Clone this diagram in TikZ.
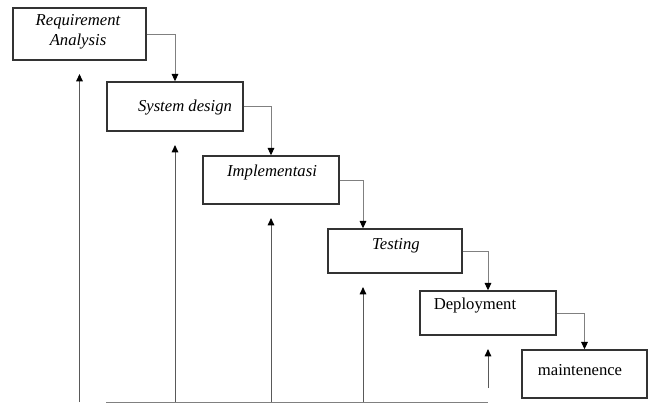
\documentclass[tikz,border=0pt]{standalone}
\usepackage{fontspec}
\setmainfont{Liberation Serif}
\usetikzlibrary{arrows.meta,positioning}

\begin{document}
\begin{tikzpicture}[x=0.75pt,y=-0.75pt,>={Triangle[length=5.5pt,width=5pt,color=black]},
  every node/.style={font=\fontsize{12.5}{15}\selectfont},
  box/.style={draw=black!80,line width=1.1pt,rectangle,inner sep=0pt},
  lbl/.style={font=\fontsize{12.5}{15}\selectfont\itshape,align=center},
  flow/.style={->,draw=black!50,line width=0.7pt},
  back/.style={->,draw=black!65,line width=0.7pt,shorten >=10pt}]
\useasboundingbox (0,0) rectangle (649,403);
% phases
\node[box,minimum width=99.75pt,minimum height=39pt] (req) at (79.5,34) {};
\node[box,minimum width=102pt,minimum height=36.75pt] (sys) at (175,106.5) {};
\node[box,minimum width=102pt,minimum height=36pt] (impl) at (271,180) {};
\node[box,minimum width=100.5pt,minimum height=33pt] (test) at (395,251) {};
\node[box,minimum width=102pt,minimum height=33pt] (deploy) at (488,313) {};
\node[box,minimum width=93.75pt,minimum height=36pt] (maint) at (584.5,374) {};
\node[lbl] (reqtext) at (78,32) {Requirement\\Analysis};
\node[lbl] (systext) at (185,108) {System design};
\node[lbl] (impltext) at (272,172) {Implementasi};
\node[lbl] (testtext) at (396,246) {Testing};
\node (deploytext) at (475,306) {Deployment};
\node (mainttext) at (580,370) {maintenence};
\coordinate (testin) at ([xshift=-24pt]test.north);
\coordinate (testout) at ([xshift=-24pt]test.south);
% forward flow
\draw[flow] (req.east) -| (sys.north);
\draw[flow] (sys.east) -| (impl.north);
\draw[flow] (impl.east) -| (testin);
\draw[flow] (test.east) -| (deploy.north);
\draw[flow] (deploy.east) -| (maint.north);
% feedback
\coordinate (base) at (0,402);
\draw[draw=black!50,line width=0.7pt] (sys.south west |- base) -- (deploy.south |- base);
\draw[back] (req.south |- base) -- (req.south);
\draw[back] (sys.south |- base) -- (sys.south);
\draw[back] (impl.south |- base) -- (impl.south);
\draw[back] (testout |- base) -- (testout);
\draw[back,shorten <=10.5pt] (deploy.south |- base) -- (deploy.south);
\end{tikzpicture}
\end{document}
